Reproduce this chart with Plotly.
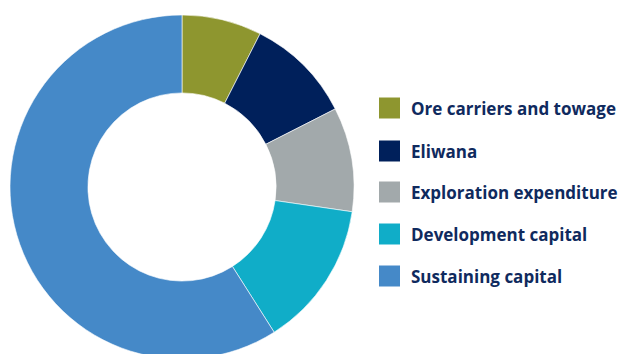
import plotly.graph_objects as go

labels = ["Ore carriers and towage", "Eliwana", "Exploration expenditure",
          "Development capital", "Sustaining capital"]
values = [7.5, 10.0, 9.8, 13.7, 59.0]
colors = ["#8E962F", "#00205B", "#A2A9AB", "#10ADC8", "#4589C8"]

W, H = 623, 362
fig = go.Figure()
fig.add_trace(go.Pie(
    labels=labels, values=values, sort=False, direction="clockwise", rotation=0,
    hole=0.547, textinfo="none", hoverinfo="label+percent",
    marker=dict(colors=colors, line=dict(color="white", width=0.6)),
    domain=dict(x=[10 / W, 354 / W], y=[(H - 359) / H, (H - 15) / H]),
    showlegend=False,
))

row_y = [108, 151, 192, 234, 276]
for lab, col, yc in zip(labels, colors, row_y):
    fig.add_shape(type="rect", xref="paper", yref="paper",
                  x0=379 / W, x1=400 / W, y0=(H - yc - 10.5) / H, y1=(H - yc + 10.5) / H,
                  fillcolor=col, line=dict(width=0))
    fig.add_annotation(xref="paper", yref="paper", x=409 / W, y=(H - yc) / H,
                       xanchor="left", yanchor="middle", showarrow=False,
                       text="<b>" + lab + "</b>",
                       font=dict(family="Open Sans", size=17, color="#0F2A5E"))

fig.update_layout(width=W, height=H, margin=dict(l=0, r=0, t=0, b=0),
                  paper_bgcolor="white", plot_bgcolor="white")
fig.write_html("out.html")
